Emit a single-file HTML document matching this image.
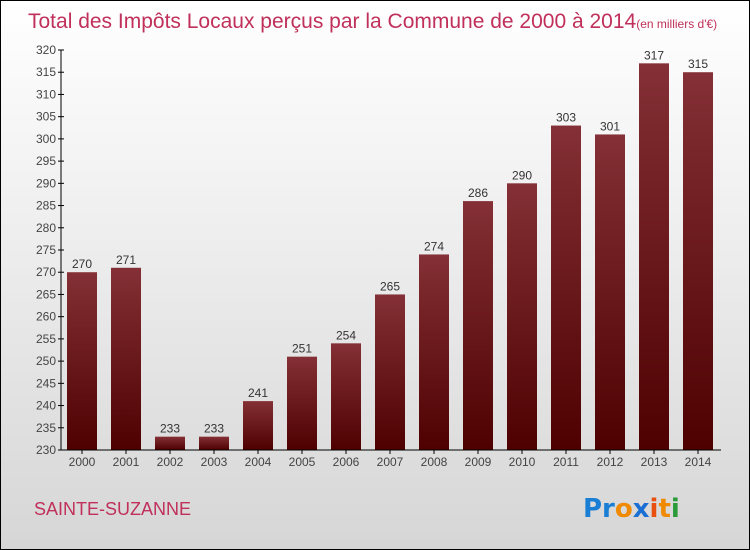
<!DOCTYPE html>
<html><head><meta charset="utf-8"><style>
body{margin:0;width:750px;height:550px;overflow:hidden;font-family:"Liberation Sans",sans-serif}
#frame{position:absolute;left:0;top:0;width:748px;height:548px;border:1px solid #000;background:linear-gradient(#fff,#f3f3f3 30%,#d6d6d6)}
</style></head><body>
<div id="frame"></div>
<svg id="c" width="750" height="550" style="position:absolute;left:0;top:0">
<defs><linearGradient id="bv" x1="0" x2="0" y1="0" y2="1"><stop offset="0" stop-color="#843036"/><stop offset="1" stop-color="#4e0000"/></linearGradient></defs>
<text x="28" y="28" font-size="21" fill="#c0305a">Total des Impôts Locaux perçus par la Commune de 2000 à 2014<tspan font-size="12">(en milliers d'€)</tspan></text>
<text x="34" y="515" font-size="18" fill="#c0305a">SAINTE-SUZANNE</text>
<g font-size="26" font-weight="bold" font-family="'DejaVu Sans',sans-serif">
<text x="583" y="517"><tspan fill="#1a7fd4">Pr</tspan><tspan fill="#f08a00">o</tspan><tspan fill="#1a6fd4">x</tspan><tspan fill="#e85010">i</tspan><tspan fill="#f08a00">t</tspan><tspan fill="#2a9a3a">i</tspan></text></g>
<g id="plot"></g>
</svg>
<script>
const years=["2000","2001","2002","2003","2004","2005","2006","2007","2008","2009","2010","2011","2012","2013","2014"];
const values=[270,271,233,233,241,251,254,265,274,286,290,303,301,317,315];
const yTicks=[230,235,240,245,250,255,260,265,270,275,280,285,290,295,300,305,310,315,320];
const ns="http://www.w3.org/2000/svg";
const X0=61,X1=721,Y0=450,Y1=50,vmin=230,vmax=320;
const y=v=>Y0-(v-vmin)/(vmax-vmin)*(Y0-Y1);
const slot=(X1-X0)/years.length;
const x=i=>X0+slot*i+slot/2-1;
const g=document.getElementById('plot');
function mk(t,a,txt){const e=document.createElementNS(ns,t);for(const k in a)e.setAttribute(k,a[k]);if(txt!==undefined)e.textContent=txt;g.appendChild(e);return e;}
values.forEach((v,i)=>{
 const r=mk('rect',{x:x(i)-15,y:y(v),width:30,height:Y0-y(v),fill:'url(#bv)'});
 
 
 const t=mk('text',{x:x(i),y:y(v)-4,'text-anchor':'middle','font-size':12,fill:'#333'},v);
 
 
 const l=mk('text',{x:x(i),y:Y0+16,'text-anchor':'middle','font-size':12,fill:'#444'},years[i]);
 
 
 mk('line',{x1:x(i),x2:x(i),y1:Y0,y2:Y0+4,stroke:'#000'});
});
yTicks.forEach(v=>{
 mk('line',{x1:X0-3,x2:X0+3,y1:y(v),y2:y(v),stroke:'#000'});
 const t=mk('text',{x:X0-5,y:y(v)+4,'text-anchor':'end','font-size':12,fill:'#444'},v);
 
 
});
const ya=mk('line',{x1:X0,x2:X0,y1:Y1,y2:Y0,stroke:'#000'});


const xa=mk('line',{x1:X0,x2:X1,y1:Y0,y2:Y0,stroke:'#000'});


</script>
</body></html>
